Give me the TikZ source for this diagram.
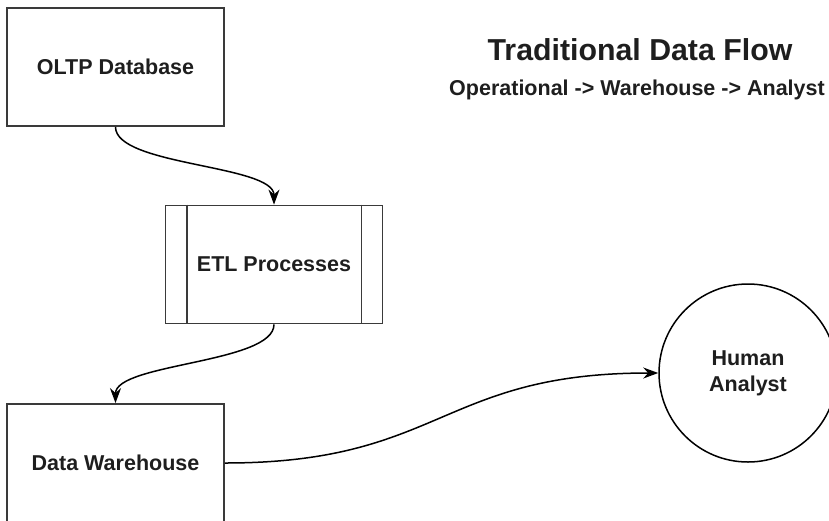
\documentclass[tikz,border=0pt]{standalone}
\usepackage{fontspec}
\setmainfont{Liberation Sans}
\usetikzlibrary{arrows.meta,positioning}
\usepackage{xcolor}
\definecolor{boxgray}{HTML}{3A3A3A}
\definecolor{textgray}{HTML}{1E1E1E}

\begin{document}
\begin{tikzpicture}[x=1pt, y=-1pt, font=\fontsize{21.5}{26}\selectfont\bfseries, text=textgray]
		\useasboundingbox (0,0) rectangle (829,520);
		\begin{scope}[every node/.style={rectangle,draw=boxgray,line width=1.8pt,minimum width=217pt,minimum height=118pt}]
			\node (oltp) at (115.5,67) {OLTP Database};
			\node (etl) at (274,264.5) {ETL Processes};
			\node (dw) at (115.5,463) {Data Warehouse};
		\end{scope}
		\draw[boxgray,line width=1.8pt] ([xshift=22pt]etl.north west) -- ([xshift=22pt]etl.south west)
			([xshift=-22pt]etl.north east) -- ([xshift=-22pt]etl.south east);
		\node (analyst) at (748,373) [circle,draw=black,line width=1.5pt,minimum size=178pt,align=center] {Human\\Analyst};
		\node (title) at (640,50) {\fontsize{30.3}{36}\selectfont Traditional Data Flow};
		\node (subtitle) at (449,90) [anchor=west,inner sep=0pt] {Operational -> Warehouse -> Analyst};
		\begin{scope}[every path/.style={line width=1.5pt,-{Stealth[length=15pt,width=11pt]}}]
			\draw (oltp.south) .. controls +(0,39) and +(0,-40) .. (etl.north);
			\draw (etl.south) .. controls +(0,39) and +(0,-40) .. (dw.north);
			\draw (dw.east) .. controls +(217,0) and +(-218,0) .. (analyst.west);
		\end{scope}
	\end{tikzpicture}
\end{document}
